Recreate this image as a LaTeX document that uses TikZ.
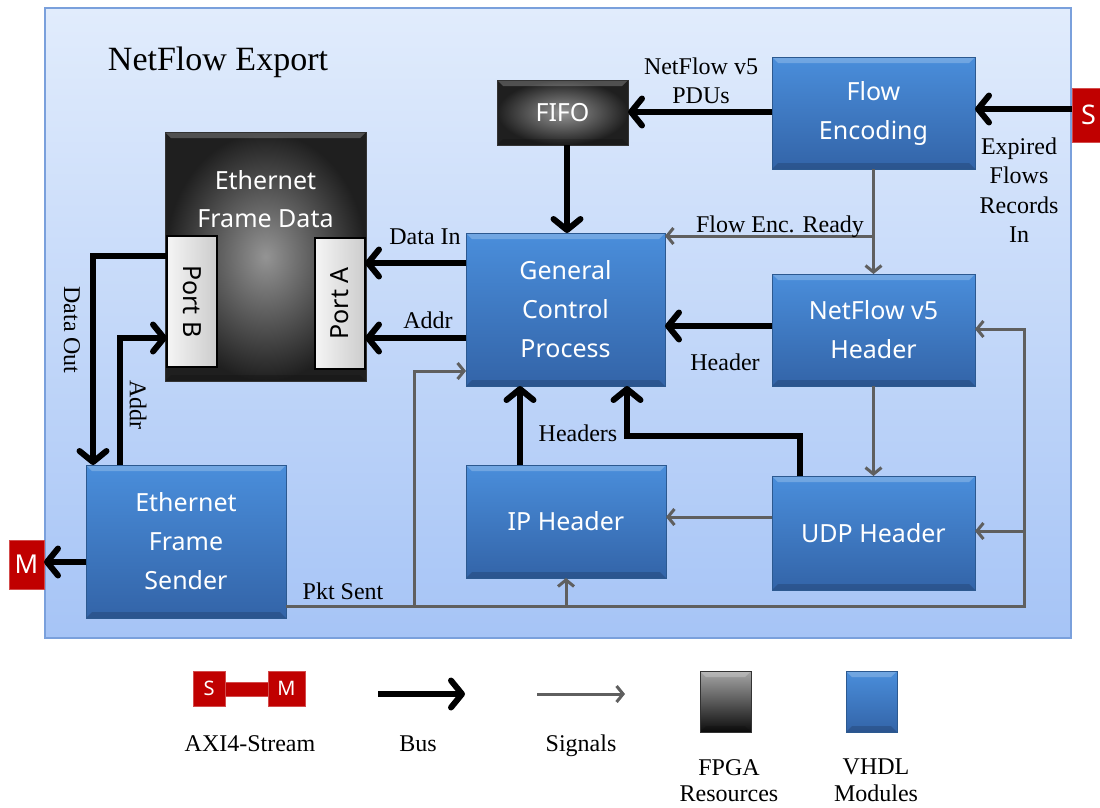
\documentclass[tikz,border=0pt]{standalone}
\usepackage{fontspec}
\setmainfont{Liberation Serif}
\newfontfamily\nodefont{Noto Sans}
\usetikzlibrary{arrows.meta,shadings}
\definecolor{panelTop}{HTML}{E1ECFC}
\definecolor{panelBot}{HTML}{A6C4F6}
\definecolor{panelLine}{HTML}{7AA0DC}
\definecolor{blueT}{HTML}{4A8EDB}
\definecolor{blueBot}{HTML}{3364A8}
\definecolor{blueLine}{HTML}{2C5990}
\definecolor{sigc}{HTML}{5F5F5F}
\definecolor{axired}{HTML}{C00000}
\begin{document}
\begin{tikzpicture}[x=1pt,y=-1pt,
  wh/.style 2 args={minimum width=#1pt, minimum height=#2pt, inner sep=0pt, outer sep=0pt},
  bevel/.style={path picture={
    \fill[white,opacity=0.22] (path picture bounding box.north west) -- (path picture bounding box.north east) -- ([shift={(-6pt,-6pt)}]path picture bounding box.north east) -- ([shift={(6pt,-6pt)}]path picture bounding box.north west) -- cycle;
    \fill[black,opacity=0.15] (path picture bounding box.south west) -- (path picture bounding box.south east) -- ([shift={(-6pt,6pt)}]path picture bounding box.south east) -- ([shift={(6pt,6pt)}]path picture bounding box.south west) -- cycle;}},
  blk/.style={draw=blueLine, line width=1pt, top color=blueT, bottom color=blueBot, bevel,
    text=white, font=\nodefont\fontsize{25}{39}\selectfont, align=center},
  dark/.style={draw=black!80, line width=1pt, shading=radial, inner color=black!42, outer color=black!88, bevel,
    text=white, font=\nodefont\fontsize{25}{39}\selectfont, align=center},
  port/.style={draw=black, line width=1.5pt, left color=gray!8, right color=gray!40},
  porttxt/.style={font=\nodefont\fontsize{25}{30}\selectfont, text=black, inner sep=0pt},
  axi/.style={fill=axired, draw=axired!70!white, line width=1pt, text=white, font=\nodefont\fontsize{20}{24}\selectfont, inner sep=0pt, outer sep=0pt},
  lbl/.style={font=\fontsize{24}{29.5}\selectfont, align=center, inner sep=0pt},
  bus/.style={line width=6pt, -{Straight Barb[length=11pt,width=27pt,round]}},
  sig/.style={draw=sigc, line width=3pt, -{Straight Barb[length=6.5pt,width=16pt]}}
]
\useasboundingbox (0,0) rectangle (1100,807);
\fill[white] (0,0) rectangle (1100,807);

% panel
\node[wh={1026}{630}, draw=panelLine, line width=1.5pt, top color=panelTop, bottom color=panelBot] (panel) at (558,323) {};
\node[font=\fontsize{34}{40}\selectfont, inner sep=0pt] (title) at (218,62) {NetFlow Export};

% blocks
\node[dark, wh={131}{65}] (fifo) at (562.5,112.5) {FIFO};
\node[blk, wh={203}{112}] (fenc) at (873.5,113) {Flow\\Encoding};
\node[dark, wh={201}{249}] (efd) at (265.5,256.5) {};
\node[text=white, font=\nodefont\fontsize{25}{38}\selectfont, align=center, inner sep=0pt] (efdtxt) at (265.5,199) {Ethernet\\Frame Data};
\node[port, wh={50}{131}] (portb) at (192,301.5) {};
\node[porttxt, rotate=-90] (portbtxt) at (192,301.5) {Port B};
\node[port, wh={50}{131}] (porta) at (340,303.5) {};
\node[porttxt, rotate=90] (portatxt) at (340,303.5) {Port A};
\node[blk, wh={199}{153}] (gcp) at (565.5,309.5) {General\\Control\\Process};
\node[blk, wh={203}{112}] (nfh) at (873.5,330) {NetFlow v5\\Header};
\node[blk, wh={200}{113}] (iph) at (566,521.5) {IP Header};
\node[blk, wh={203}{114}] (udp) at (873.5,533) {UDP Header};
\node[blk, wh={200}{153}] (efs) at (186,541.5) {Ethernet\\Frame\\Sender};
\node[axi, wh={38}{54}, font=\nodefont\fontsize{27}{30}\selectfont] (S) at (1091,115) {\hspace*{-5pt}S};
\node[axi, wh={35}{49}, font=\nodefont\fontsize{26}{30}\selectfont] (M) at (26.5,564.5) {M};

% coordinates
\coordinate (pr) at (1024,606);
\coordinate (pt) at (1024,329);
\coordinate (pg) at (414,606);

% buses
\draw[bus] (S.west |- 0,109) -- (fenc.east |- 0,109);
\draw[bus] (fenc.west |- 0,112) -- (fifo.east |- 0,112);
\draw[bus] (fifo.south -| 567,0) -- (gcp.north -| 567,0);
\draw[bus] (gcp.west |- 0,263) -- (porta.east |- 0,263);
\draw[bus] (gcp.west |- 0,338) -- (porta.east |- 0,338);
\draw[bus] (nfh.west |- 0,326) -- (gcp.east |- 0,326);
\draw[bus] ([xshift=-46pt]iph.north) -- ([xshift=-46pt]iph.north |- gcp.south);
\draw[bus] ([xshift=28pt]udp.north west) -- ++(0,-40) -| ([xshift=61.5pt]gcp.south);
\draw[bus] ([yshift=-20pt]portb.north west) -| ([xshift=7pt]efs.north west);
\draw[bus] ([xshift=34pt]efs.north west) |- ([yshift=-36.5pt]portb.west);
\draw[bus] (efs.west |- 0,562) -- (M.east |- 0,562);

% signals
\draw[sig] (fenc.south) -- (nfh.north);
\draw[sig] (fenc.south |- 0,236) -- (gcp.east |- 0,236);
\draw[sig] (nfh.south) -- (udp.north);
\draw[sig] (udp.west |- 0,517) -- (iph.east |- 0,517);
\draw[sig] (efs.east |- pr) -- (pr) -- (pt) -- (nfh.east |- pt);
\draw[sig] (pr |- 0,531) -- (udp.east |- 0,531);
\draw[sig] (iph.south |- pr) -- (iph.south);
\draw[sig] (pg) |- (gcp.west |- 0,371);

% labels
\node[lbl] (l1) at (701,81) {NetFlow v5\\PDUs};
\node[lbl] (l2) at (780,227) {Flow Enc. Ready};
\node[lbl] (l3) at (425,237) {Data In};
\node[lbl] (l4) at (428,320) {Addr};
\node[lbl] (l5) at (725,362) {Header};
\node[lbl] (l6) at (578,433) {Headers};
\node[lbl] (l7) at (1019,190) {Expired\\Flows\\Records\\In};
\node[lbl, rotate=-90] (l8) at (72,330) {Data Out};
\node[lbl, rotate=-90] (l9) at (138,405) {Addr};
\node[lbl] (l10) at (343,591) {Pkt Sent};

% legend
\node[axi, wh={43}{14}] (lgbar) at (246.5,689) {};
\node[axi, wh={32}{35}] (lgS) at (209,688.5) {S};
\node[axi, wh={37}{35}] (lgM) at (286.5,688.5) {M};
\node[lbl] (lgaxi) at (250,744) {AXI4-Stream};
\coordinate (lb1) at (378,694);
\coordinate (lb2) at (465,694);
\draw[bus] (lb1) -- (lb2);
\node[lbl] (lgbus) at (418,744) {Bus};
\coordinate (ls1) at (537,694);
\coordinate (ls2) at (625,694);
\draw[sig] (ls1) -- (ls2);
\node[lbl] (lgsig) at (581,746) {Signals};
\node[wh={51}{61}, draw=black!80, line width=1pt, top color=black!35, bottom color=black!95, bevel] (lgfpga) at (725.5,701.5) {};
\node[lbl, font=\fontsize{24}{26}\selectfont] (lgfpgat) at (729,781) {FPGA\\Resources};
\node[wh={51}{61}, blk] (lgvhdl) at (871.5,701.5) {};
\node[lbl, font=\fontsize{24}{27}\selectfont] (lgvhdlt) at (876,780) {VHDL\\Modules};
\end{tikzpicture}
\end{document}
